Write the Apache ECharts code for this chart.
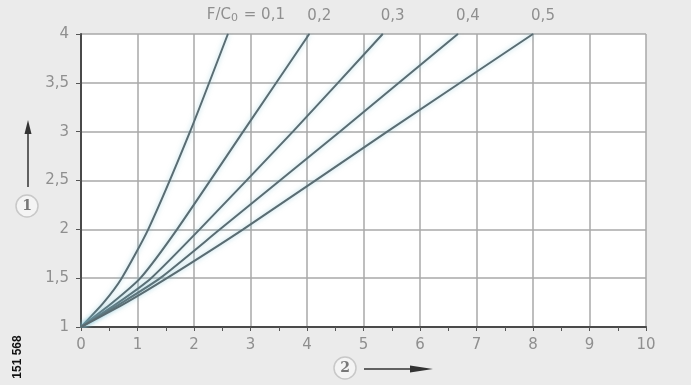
<!DOCTYPE html>
<html>
<head>
<meta charset="utf-8">
<script src="https://cdn.jsdelivr.net/npm/echarts@6/dist/echarts.min.js"></script>
<style>
  html, body { margin: 0; padding: 0; background: #ebebeb; }
  #chart { width: 691px; height: 385px; }
</style>
</head>
<body>
<div id="chart"></div>
<script>
// y levels where the x values of each curve were read
const yLevels = [1, 1.25, 1.5, 2, 3, 4]
// x values per curve (F/C0 ratio)
const ratios = ['0,1', '0,2', '0,3', '0,4', '0,5']
const xLoad01 = [0, 0.40, 0.72, 1.19, 1.93, 2.60]
const xLoad02 = [0, 0.56, 1.05, 1.70, 2.87, 4.04]
const xLoad03 = [0, 0.66, 1.24, 2.10, 3.75, 5.34]
const xLoad04 = [0, 0.73, 1.40, 2.46, 4.58, 6.67]
const xLoad05 = [0, 0.80, 1.52, 2.87, 5.42, 8.00]
const curves = [xLoad01, xLoad02, xLoad03, xLoad04, xLoad05]
const xTicks = [0, 1, 2, 3, 4, 5, 6, 7, 8, 9, 10]
const yTicks = [1, 1.5, 2, 2.5, 3, 3.5, 4]

const labelFont = 'DejaVu Sans'
const textColor = '#8f8f8f'
const lineColor = '#5a6c72'

const chart = echarts.init(document.getElementById('chart'))

const series = curves.map((xs, i) => {
  const data = xs.map((x, k) => [x, yLevels[k]])
  const last = data.length - 1
  return {
    type: 'line',
    data: data.map((d, k) => ({
      value: d,
      symbol: k === last ? 'circle' : 'none',
      symbolSize: 1,
      label: k === last ? {
        show: true,
        position: 'top',
        distance: 10,
        offset: i === 0 ? [18, 0] : [10, 0],
        formatter: i === 0 ? 'F/C{sub|0} = ' + ratios[i] : ratios[i],
        color: textColor,
        fontFamily: labelFont,
        fontSize: 15,
        rich: {
          sub: { fontSize: 11, padding: [6, 1, 0, 0], color: textColor, fontFamily: labelFont }
        }
      } : { show: false }
    })),
    smooth: 0.2,
    showAllSymbol: true,
    itemStyle: { color: lineColor },
    lineStyle: {
      color: lineColor,
      width: 2,
      shadowColor: 'rgba(120, 190, 210, 0.6)',
      shadowBlur: 5
    },
    z: 3
  }
})

const option = {
  backgroundColor: '#ebebeb',
  animation: false,
  grid: {
    left: 81,
    right: 45,
    top: 34,
    bottom: 58,
    show: true,
    backgroundColor: '#ffffff',
    borderWidth: 0
  },
  xAxis: {
    type: 'value',
    min: xTicks[0],
    max: xTicks[xTicks.length - 1],
    interval: 1,
    axisLine: { show: true, onZero: false, lineStyle: { color: '#4a4a4a', width: 2 } },
    axisTick: { show: true, length: 4, lineStyle: { color: '#555', width: 1 } },
    minorTick: { show: true, splitNumber: 2, length: 4, lineStyle: { color: '#555', width: 1 } },
    axisLabel: { color: textColor, fontSize: 15, fontFamily: labelFont, margin: 11 },
    splitLine: { show: true, lineStyle: { color: '#a8a8a8', width: 1.5 } }
  },
  yAxis: {
    type: 'value',
    min: yTicks[0],
    max: yTicks[yTicks.length - 1],
    interval: 0.5,
    axisLine: { show: true, onZero: false, lineStyle: { color: '#4a4a4a', width: 2 } },
    axisTick: { show: true, length: 5, lineStyle: { color: '#555', width: 1 } },
    axisLabel: {
      color: textColor,
      fontSize: 15,
      fontFamily: labelFont,
      margin: 12,
      formatter: v => String(v).replace('.', ',')
    },
    splitLine: { show: true, lineStyle: { color: '#a8a8a8', width: 1.5 } }
  },
  graphic: [
    // arrow up for axis 1
    { type: 'line', shape: { x1: 28, y1: 187, x2: 28, y2: 130 }, style: { stroke: '#333', lineWidth: 1.5 } },
    { type: 'polygon', shape: { points: [[24.5, 134], [31.5, 134], [28, 120]] }, style: { fill: '#333' } },
    { type: 'circle', shape: { cx: 27, cy: 206, r: 11 }, style: { fill: '#f4f4f4', stroke: '#c8c8c8', lineWidth: 1.5 } },
    { type: 'text', x: 27, y: 206, style: { text: '1', fontSize: 14, fontWeight: 'bold', fill: '#777', align: 'center', verticalAlign: 'middle', fontFamily: 'DejaVu Serif' } },
    // arrow right for axis 2
    { type: 'circle', shape: { cx: 345, cy: 368, r: 11 }, style: { fill: '#f4f4f4', stroke: '#c8c8c8', lineWidth: 1.5 } },
    { type: 'text', x: 345, y: 368, style: { text: '2', fontSize: 14, fontWeight: 'bold', fill: '#777', align: 'center', verticalAlign: 'middle', fontFamily: 'DejaVu Serif' } },
    { type: 'line', shape: { x1: 364, y1: 369, x2: 420, y2: 369 }, style: { stroke: '#333', lineWidth: 1.5 } },
    { type: 'polygon', shape: { points: [[410, 365.5], [410, 372.5], [433, 369]] }, style: { fill: '#333' } },
    // figure number
    { type: 'text', x: 18, y: 357, rotation: Math.PI / 2, style: { text: '151 568', fontSize: 12, fontWeight: 'bold', fill: '#111', align: 'center', verticalAlign: 'middle', fontFamily: 'Liberation Sans' } }
  ],
  series: series
}

chart.setOption(option)
</script>
</body>
</html>
